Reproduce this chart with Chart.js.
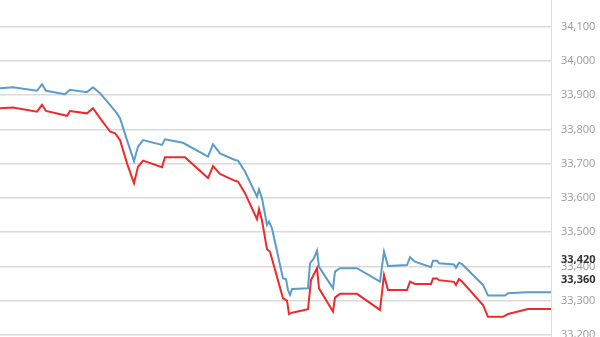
<!DOCTYPE html>
<html>
<head>
<meta charset="utf-8">
<script src="https://cdn.jsdelivr.net/npm/chart.js@4"></script>
<style>
  html, body { margin: 0; padding: 0; background: #fff; }
  canvas { display: block; }
</style>
</head>
<body>
<canvas id="priceChart" width="600" height="337"></canvas>
<script>
// time index (minutes into session) and prices
var blueTime = [0, 13, 37, 42, 46, 65, 70, 87, 93, 100, 110, 117, 120, 127, 134, 138, 143, 162, 165, 183,
    208, 213, 220, 235, 238, 245, 257, 259, 262, 267, 269, 272, 283, 286, 288, 290, 292, 308, 310, 314,
    317, 319, 333, 335, 340, 357, 380, 384, 388, 407, 410, 415, 431, 433, 437, 439, 454, 456, 459, 462,
    483, 488, 505, 508, 527, 551];
var blueValues = [33920, 33923, 33913, 33932, 33913, 33903, 33916, 33909, 33923, 33906, 33872, 33847, 33833, 33769, 33708, 33750, 33769, 33755, 33771, 33761,
    33721, 33757, 33730, 33711, 33709, 33677, 33604, 33625, 33599, 33521, 33531, 33511, 33365, 33363, 33331, 33317, 33334, 33336, 33409, 33424,
    33446, 33399, 33336, 33385, 33395, 33395, 33356, 33443, 33401, 33404, 33427, 33414, 33398, 33417, 33417, 33409, 33406, 33396, 33411, 33407,
    33346, 33315, 33315, 33322, 33325, 33325];

var redTime = [0, 13, 37, 42, 46, 67, 70, 87, 93, 100, 110, 115, 120, 127, 134, 138, 143, 162, 165, 185,
    208, 213, 220, 235, 238, 245, 257, 259, 262, 267, 270, 283, 287, 289, 292, 308, 311, 317, 319, 333,
    335, 340, 357, 380, 384, 388, 407, 410, 415, 431, 433, 437, 439, 454, 456, 459, 462, 483, 488, 503,
    508, 528, 551];
var redValues = [33862, 33864, 33852, 33872, 33854, 33840, 33854, 33847, 33862, 33833, 33794, 33789, 33769, 33701, 33643, 33691, 33709, 33690, 33719, 33719,
    33658, 33693, 33670, 33650, 33648, 33614, 33538, 33567, 33534, 33450, 33443, 33307, 33300, 33261, 33265, 33275, 33360, 33395, 33336, 33268,
    33309, 33320, 33320, 33273, 33375, 33331, 33331, 33356, 33349, 33349, 33365, 33365, 33360, 33355, 33346, 33363, 33356, 33287, 33253, 33253,
    33261, 33276, 33276];

var tickValues = [33200, 33300, 33400, 33500, 33600, 33700, 33800, 33900, 34000, 34100];
var lastValues = [33420, 33360];

function toPoints(times, values) {
    return times.map(function (t, i) { return { x: t, y: values[i] }; });
}

function isLast(ctx) {
    return ctx.tick && lastValues.includes(ctx.tick.value);
}

new Chart(document.getElementById('priceChart'), {
    type: 'line',
    data: {
        datasets: [{
            label: 'Blue',
            data: toPoints(blueTime, blueValues),
            borderColor: '#5b9ccb',
            borderWidth: 2,
            pointRadius: 0,
            tension: 0
        },
        {
            label: 'Red',
            data: toPoints(redTime, redValues),
            borderColor: '#ee2a2a',
            borderWidth: 2,
            pointRadius: 0,
            tension: 0
        }]
    },
    options: {
        responsive: false,
        devicePixelRatio: 1,
        animation: false,
        layout: { padding: 0 },
        plugins: {
            legend: { display: false },
            tooltip: { enabled: false }
        },
        scales: {
            x: {
                type: 'linear',
                display: false,
                min: 0,
                max: 551
            },
            y: {
                position: 'right',
                min: 33194,
                max: 34178,
                afterBuildTicks: function (scale) {
                    scale.ticks = tickValues.concat(lastValues)
                        .sort(function (a, b) { return a - b; })
                        .map(function (v) { return { value: v }; });
                },
                afterFit: function (scale) {
                    scale.width = 49;
                    scale.paddingTop = 0;
                    scale.paddingBottom = 0;
                },
                border: { display: true, color: '#dddddd', width: 1 },
                grid: {
                    drawTicks: false,
                    lineWidth: 1.5,
                    color: function (ctx) {
                        return isLast(ctx) ? 'rgba(0,0,0,0)' : '#dadada';
                    }
                },
                ticks: {
                    autoSkip: false,
                    padding: 10,
                    color: function (ctx) {
                        return isLast(ctx) ? '#333333' : '#9a9a9a';
                    },
                    font: function (ctx) {
                        return {
                            family: '"Open Sans", sans-serif',
                            size: 11,
                            weight: isLast(ctx) ? 'bold' : 'normal'
                        };
                    },
                    callback: function (v) {
                        return v.toLocaleString('en-US');
                    }
                }
            }
        }
    }
});
</script>
</body>
</html>
